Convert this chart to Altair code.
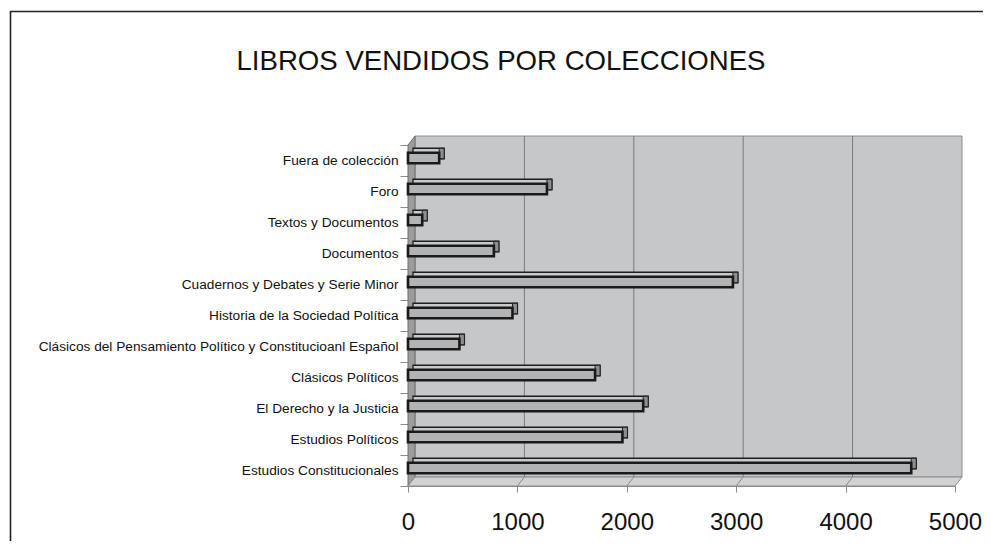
import altair as alt
import pandas as pd

# ---- data ----
categories = [
    "Fuera de colección",
    "Foro",
    "Textos y Documentos",
    "Documentos",
    "Cuadernos y Debates y Serie Minor",
    "Historia de la Sociedad Política",
    "Clásicos del Pensamiento Político y Constitucioanl Español",
    "Clásicos Políticos",
    "El Derecho y la Justicia",
    "Estudios Políticos",
    "Estudios Constitucionales",
]
values = [285, 1270, 130, 785, 2970, 955, 470, 1710, 2150, 1960, 4600]
x_ticks = [0, 1000, 2000, 3000, 4000, 5000]
inner_ticks = [1000, 2000, 3000, 4000]
title_text = "LIBROS VENDIDOS POR COLECCIONES"

W, H = 547, 341      # plot area
DX, DY = 7, 9        # depth offset of the 3D walls
FONT = "Liberation Sans"

df = pd.DataFrame({"cat": categories, "val": values})
one = pd.DataFrame({"k": [0]})
grid = pd.DataFrame({"v": inner_ticks})

xscale = alt.Scale(domain=[0, 5000], nice=False, zero=True)
yscale = alt.Scale(paddingInner=0, paddingOuter=0)

x_axis = alt.Axis(
    values=x_ticks, format="d", grid=False, domainColor="#8c8c8c",
    tickColor="#8c8c8c", tickSize=6, labelFontSize=24, labelFont=FONT,
    labelColor="#111111", labelPadding=18, labelFlush=False, labelOverlap=False,
    title=None,
)
y_axis = alt.Axis(
    grid=False, tickBand="extent", domainColor="#6e6e6e", tickColor="#8c8c8c",
    tickSize=8, labelFontSize=13.7, labelFont=FONT, labelColor="#111111",
    labelPadding=2, labelLimit=420, title=None,
)

# outer frame of the chart area (top and left edges)
frame_left = alt.Chart(one).mark_rule(color="#222222", strokeWidth=1.6).encode(
    x=alt.value(-397.5), y=alt.value(-134), y2=alt.value(400)
)
frame_top = alt.Chart(one).mark_rule(color="#222222", strokeWidth=1.6).encode(
    x=alt.value(-398), x2=alt.value(575), y=alt.value(-133.5)
)

# back wall
back_wall = alt.Chart(one).mark_rect(fill="#c6c7c9", stroke="#8c8c8c", strokeWidth=1).encode(
    x=alt.value(DX), x2=alt.value(W + DX), y=alt.value(-DY), y2=alt.value(H - DY)
)
wall_grid = alt.Chart(grid).mark_rule(color="#7a7a7a", strokeWidth=1, xOffset=DX).encode(
    x=alt.X("v:Q", scale=xscale, axis=x_axis), y=alt.value(-DY), y2=alt.value(H - DY)
)

# left wall (parallelogram)
lw = pd.DataFrame({"px": [0, DX], "py": [0, -DY], "py2": [H, H - DY]})
left_wall = alt.Chart(lw).mark_area(fill="#9c9c9c", stroke="#6e6e6e", strokeWidth=1).encode(
    x=alt.X("px:Q", scale=None, axis=None),
    y=alt.Y("py:Q", scale=None, axis=None),
    y2="py2:Q",
)

# floor (parallelogram)
fl = pd.DataFrame({
    "px": [0, DX, W, W + DX],
    "py": [H, H - DY, H - DY, H - DY],
    "py2": [H, H, H, H - DY],
})
floor = alt.Chart(fl).mark_area(fill="#d2d2d2", stroke="#8c8c8c", strokeWidth=1).encode(
    x=alt.X("px:Q", scale=None, axis=None),
    y=alt.Y("py:Q", scale=None, axis=None),
    y2="py2:Q",
)
floor_grid = alt.Chart(grid).mark_rule(color="#8a8a8a", strokeWidth=1, x2Offset=DX).encode(
    x=alt.X("v:Q", scale=xscale, axis=x_axis), x2="v:Q", y=alt.value(H), y2=alt.value(H - DY)
)

# 3D bars: top face, side face, front face
BAR = 10.5
bar_top = alt.Chart(df).mark_bar(
    fill="#cacaca", stroke="#1e1e1e", strokeWidth=1.3, size=BAR, xOffset=5, yOffset=-7
).encode(
    x=alt.X("val:Q", scale=xscale, axis=x_axis),
    y=alt.Y("cat:N", sort=None, scale=yscale, axis=y_axis),
)
bar_side = alt.Chart(df).mark_bar(
    fill="#8e8e8e", stroke="#1e1e1e", strokeWidth=1, size=BAR, x2Offset=5, yOffset=-7
).encode(
    x=alt.X("val:Q", scale=xscale, axis=x_axis),
    x2="val:Q",
    y=alt.Y("cat:N", sort=None, scale=yscale, axis=y_axis),
)
bar_front = alt.Chart(df).mark_bar(
    fill="#b2b3b5", stroke="#1a1a1a", strokeWidth=2.6, size=BAR, yOffset=-2.5
).encode(
    x=alt.X("val:Q", scale=xscale, axis=x_axis),
    y=alt.Y("cat:N", sort=None, scale=yscale, axis=y_axis),
)

title = alt.Chart(one).mark_text(
    text=title_text, font=FONT, fontSize=27.6, color="#111111", align="center", baseline="middle"
).encode(x=alt.value(93), y=alt.value(-83))

chart = alt.layer(
    frame_left, frame_top, back_wall, wall_grid, left_wall, floor, floor_grid,
    bar_top, bar_side, bar_front, title,
).properties(
    width=W, height=H,
    autosize=alt.AutoSizeParams(type="none"),
    padding={"left": 400, "top": 137, "right": 28, "bottom": 55},
    background="white",
).configure_view(stroke=None)

chart.save("out.html", embed_options={"renderer": "svg", "actions": False})
